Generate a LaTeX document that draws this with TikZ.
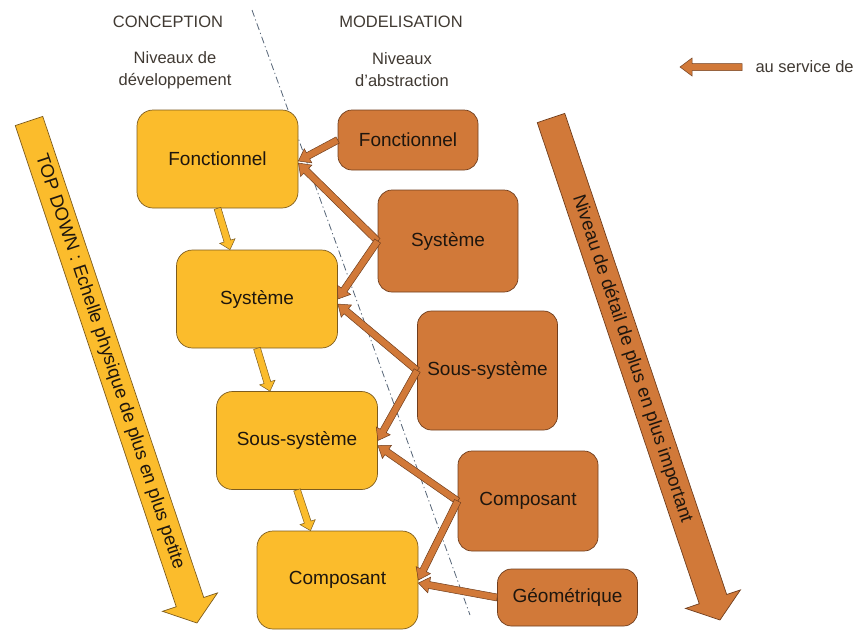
\documentclass[tikz,border=0pt]{standalone}
\usepackage{fontspec}
\setmainfont{Liberation Sans}
\usepackage{tikz}
\usetikzlibrary{calc, positioning}

\definecolor{devfill}{RGB}{251,188,44}
\definecolor{devline}{RGB}{125,92,30}
\definecolor{absfill}{RGB}{209,121,57}
\definecolor{absline}{RGB}{112,62,30}
\definecolor{sepline}{RGB}{85,100,118}
\definecolor{txt}{RGB}{30,22,14}

% block arrow: style, from, to, half shaft, half head, head length
\newcommand{\blockarrow}[6]{%
  \path[#1] let \p1=#2, \p2=#3, \n1={atan2(\y2-\y1,\x2-\x1)}, \n2={veclen(\x2-\x1,\y2-\y1)} in
    [shift={(\p1)}, rotate=\n1]
    (0pt,#4) -- ({\n2-#6},#4) -- ({\n2-#6},#5) -- (\n2,0pt) -- ({\n2-#6},-#5) -- ({\n2-#6},-#4) -- (0pt,-#4) -- cycle;}

\begin{document}
\begin{tikzpicture}[
    x=1pt, y=-1pt,
    dev/.style={draw=devline, fill=devfill, line width=0.7pt, rounded corners=16pt, minimum width=161pt, minimum height=98pt, text=txt, font=\fontsize{19}{23}\selectfont},
    abs/.style={draw=absline, fill=absfill, line width=0.7pt, rounded corners=14pt, minimum width=140pt, text=txt, font=\fontsize{19}{23}\selectfont},
    head/.style={text=txt!85, align=center, font=\fontsize{16.5}{22}\selectfont},
    devarrow/.style={draw=devline, fill=devfill, line width=0.5pt},
    absarrow/.style={draw=absline, fill=absfill, line width=0.5pt}
]
\useasboundingbox (0,0) rectangle (858,630);

% Headers
\node[head] (concep) at (168,22) {CONCEPTION};
\node[head] (modeli) at (401,22) {MODELISATION};
\node[head] (nivdev) at (175,70) {Niveaux de\\développement};
\node[head] (nivabs) at (402,70) {Niveaux\\d’abstraction};

% Separation line
\coordinate (sep_top) at (252,10);
\coordinate (sep_bot) at (470,615);
\draw[sepline, line width=0.8pt, dash pattern=on 7pt off 3pt on 1.2pt off 3pt] (sep_top) -- (sep_bot);

% Legend
\coordinate (leg_s) at (742,67);
\coordinate (leg_e) at (680,67);
\blockarrow{absarrow}{(leg_s)}{(leg_e)}{3.5pt}{9pt}{12pt}
\node[head, anchor=west] (legend) at (752,67) {au service de};

% Big arrows
\coordinate (td_s) at (29,121);
\coordinate (td_e) at (197,623);
\blockarrow{devarrow, line width=0.7pt}{(td_s)}{(td_e)}{14.5pt}{29pt}{22pt}
\node[rotate=-71.5, text=txt, font=\fontsize{18.5}{22}\selectfont] (td_txt) at ($(td_s)!0.48!(td_e)$) {TOP DOWN : Echelle physique de plus en plus petite};

\coordinate (nd_s) at (551,118);
\coordinate (nd_e) at (720,620);
\blockarrow{absarrow, line width=0.7pt}{(nd_s)}{(nd_e)}{14.5pt}{29pt}{22pt}
\node[rotate=-71.5, text=txt, font=\fontsize{18.5}{22}\selectfont] (nd_txt) at ($(nd_s)!0.48!(nd_e)$) {Niveau de détail de plus en plus important};

% Development levels
\node[dev] (dev1) at (217.5,159) {Fonctionnel};
\node[dev] (dev2) at (257,299) {Système};
\node[dev] (dev3) at (297,440.5) {Sous-système};
\node[dev] (dev4) at (337.5,580) {Composant};

% Abstraction levels
\node[abs, minimum height=60pt] (abs1) at (408,140) {Fonctionnel};
\node[abs, minimum height=102pt] (abs2) at (448,241) {Système};
\node[abs, minimum height=119pt] (abs3) at (487.5,370.5) {Sous-système};
\node[abs, minimum height=100pt] (abs4) at (528,501) {Composant};
\node[abs, minimum height=57pt] (abs5) at (567.5,597.5) {Géométrique};

% Top down between levels
\blockarrow{devarrow}{(dev1.south)}{([xshift=-27pt]dev2.north)}{3.5pt}{8pt}{9pt}
\blockarrow{devarrow}{(dev2.south)}{([xshift=-27pt]dev3.north)}{3.5pt}{8pt}{9pt}
\blockarrow{devarrow}{(dev3.south)}{([xshift=-27pt]dev4.north)}{3.5pt}{8pt}{9pt}

% au service de
\blockarrow{absarrow}{(abs1.west)}{([yshift=-2pt]dev1.east)}{3.5pt}{8pt}{11pt}
\blockarrow{absarrow}{(abs2.west)}{([yshift=-4pt]dev1.east)}{3.5pt}{8pt}{11pt}
\blockarrow{absarrow}{(abs2.west)}{(dev2.east)}{3.5pt}{8pt}{11pt}
\blockarrow{absarrow}{(abs3.west)}{([yshift=-5pt]dev2.east)}{3.5pt}{8pt}{11pt}
\blockarrow{absarrow}{(abs3.west)}{(dev3.east)}{3.5pt}{8pt}{11pt}
\blockarrow{absarrow}{(abs4.west)}{([yshift=-5pt]dev3.east)}{3.5pt}{8pt}{11pt}
\blockarrow{absarrow}{(abs4.west)}{(dev4.east)}{3.5pt}{8pt}{11pt}
\blockarrow{absarrow}{(abs5.west)}{([yshift=-3pt]dev4.east)}{3.5pt}{8pt}{11pt}

\end{tikzpicture}
\end{document}
